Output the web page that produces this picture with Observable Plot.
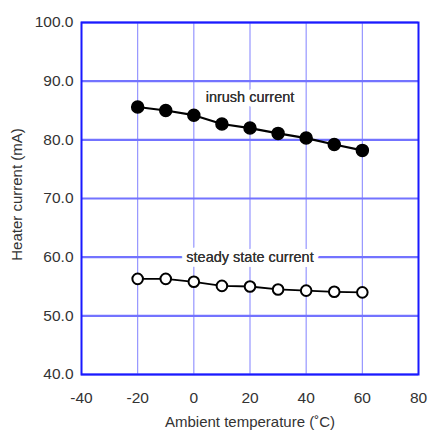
<!DOCTYPE html>
<html>
<head>
<meta charset="utf-8">
<script src="https://cdn.jsdelivr.net/npm/d3@7"></script>
<script src="https://cdn.jsdelivr.net/npm/@observablehq/plot@0.6"></script>
<style>
  html, body { margin: 0; padding: 0; background: #fff; }
  #chart svg { display: block; font-family: "Liberation Sans", Arial, sans-serif; }
</style>
</head>
<body>
<div id="chart"></div>
<script>
const temps = [-20, -10, 0, 10, 20, 30, 40, 50, 60];
const inrush = [85.6, 85.0, 84.2, 82.7, 82.0, 81.1, 80.3, 79.2, 78.2];
const steady = [56.3, 56.3, 55.8, 55.1, 55.0, 54.5, 54.3, 54.1, 54.0];
const xTicks = [-40, -20, 0, 20, 40, 60, 80];
const yTicks = [40, 50, 60, 70, 80, 90, 100];
const seriesLabels = [
  {x: 20, y: 87.3, text: "inrush current"},
  {x: 20, y: 60, text: "steady state current"}
];

const inrushData = temps.map((t, i) => ({t, v: inrush[i]}));
const steadyData = temps.map((t, i) => ({t, v: steady[i]}));

const chart = Plot.plot({
  width: 428,
  height: 435,
  marginLeft: 81,
  marginRight: 10,
  marginTop: 22,
  marginBottom: 61,
  style: {fontFamily: '"Liberation Sans", Arial, sans-serif', fontSize: "15px", color: "#333", background: "#fff"},
  x: {domain: [-40, 80], ticks: xTicks, tickFormat: d => String(d), label: null},
  y: {domain: [40, 100], ticks: yTicks, tickFormat: d => d.toFixed(1), label: null},
  marks: [
    Plot.ruleX(xTicks, {stroke: "#8c8cff", strokeWidth: 1.1}),
    Plot.ruleY(yTicks, {stroke: "#7373ff", strokeWidth: 2.2}),
    Plot.frame({stroke: "#1a1aff", strokeWidth: 2}),
    Plot.axisX({ticks: xTicks, tickSize: 0, tickPadding: 17, fontSize: 15.5, fill: "#333", tickFormat: d => String(d), label: null}),
    Plot.axisY({ticks: yTicks, tickSize: 0, tickPadding: 8, fontSize: 15.5, fill: "#333", tickFormat: d => d.toFixed(1), label: null}),
    Plot.text(seriesLabels, {x: "x", y: "y", text: "text", fontSize: 14.5, fill: "#333", stroke: "white", strokeWidth: 10, strokeLinejoin: "round"}),
    Plot.text(seriesLabels, {x: "x", y: "y", text: "text", fontSize: 14.5, fill: "#333"}),
    Plot.line(inrushData, {x: "t", y: "v", stroke: "black", strokeWidth: 2.2}),
    Plot.dot(inrushData, {x: "t", y: "v", r: 6, fill: "black", stroke: "black"}),
    Plot.line(steadyData, {x: "t", y: "v", stroke: "black", strokeWidth: 1.8}),
    Plot.dot(steadyData, {x: "t", y: "v", r: 5.3, fill: "white", stroke: "black", strokeWidth: 2}),
    Plot.text(["Ambient temperature (˚C)"], {frameAnchor: "bottom", dy: 52, fontSize: 15, fill: "#333"}),
    Plot.text(["Heater current (mA)"], {frameAnchor: "left", textAnchor: "middle", dx: -64, dy: -4, rotate: -90, fontSize: 15, fill: "#333"})
  ]
});
document.getElementById("chart").appendChild(chart);
</script>
</body>
</html>
